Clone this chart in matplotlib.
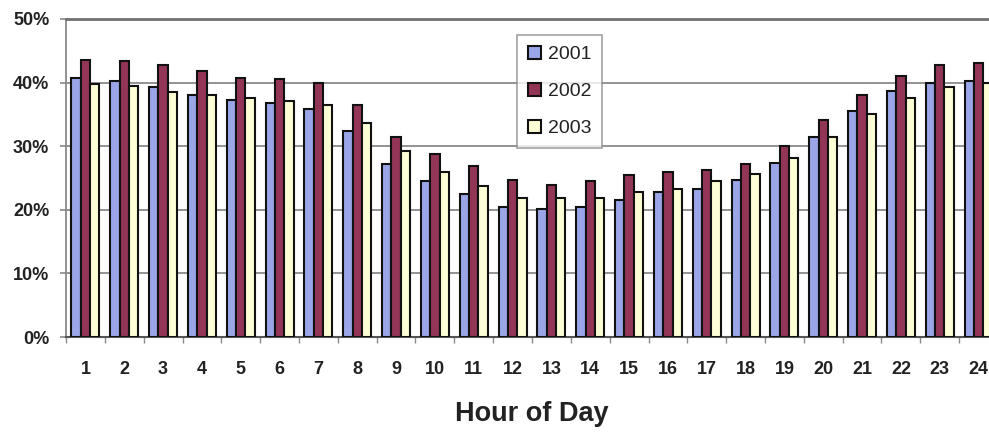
import matplotlib
matplotlib.use("Agg")
import matplotlib.pyplot as plt
import numpy as np

plt.rcParams["font.family"] = ["Liberation Sans", "DejaVu Sans"]

hours = list(range(1, 25))
share_2001 = [40.7, 40.2, 39.3, 38.0, 37.2, 36.8, 35.9, 32.4, 27.2, 24.5, 22.5, 20.5,
              20.2, 20.5, 21.5, 22.8, 23.3, 24.7, 27.4, 31.5, 35.5, 38.7, 40.0, 40.2]
share_2002 = [43.6, 43.4, 42.8, 41.9, 40.8, 40.6, 40.0, 36.5, 31.5, 28.8, 26.9, 24.7,
              23.9, 24.5, 25.4, 26.0, 26.2, 27.2, 30.0, 34.1, 38.0, 41.1, 42.7, 43.1]
share_2003 = [39.8, 39.5, 38.6, 38.0, 37.5, 37.1, 36.4, 33.6, 29.3, 25.9, 23.7, 21.8,
              21.8, 21.8, 22.8, 23.3, 24.5, 25.7, 28.1, 31.5, 35.0, 37.5, 39.3, 40.0]
years = ["2001", "2002", "2003"]

colors = ["#9AA6E8", "#933556", "#FFFFD6"]

fig = plt.figure(figsize=(9.89, 4.32), dpi=100)
# the plot area runs a little past the right edge of the picture, like the source
ax = fig.add_axes([66 / 989, 1 - 337 / 432, 932 / 989, 318 / 432])

x = np.array(hours)
w = 0.24
for i, (vals, lab) in enumerate(zip([share_2001, share_2002, share_2003], years)):
    ax.bar(x + (i - 1) * w, vals, width=w, color=colors[i], edgecolor="#111111",
           linewidth=1.5, label=lab, zorder=3)

ax.set_xlim(0.5, 24.5)
ax.set_ylim(0, 50)
ax.set_yticks([0, 10, 20, 30, 40, 50])
ax.set_yticklabels([f"{v}%" for v in range(0, 60, 10)])
ax.set_xticks(hours)
ax.set_xticklabels([str(h) for h in hours])
ax.set_xticks(np.arange(0.5, 25, 1), minor=True)

ax.grid(axis="y", color="#8a8a8a", linewidth=1.3, zorder=0)
ax.spines["right"].set_visible(False)
ax.spines["top"].set_color("#707070")
ax.spines["top"].set_linewidth(2.0)
ax.spines["left"].set_color("#8a8a8a")
ax.spines["left"].set_linewidth(1.3)
ax.spines["bottom"].set_color("#555555")
ax.spines["bottom"].set_linewidth(1.5)

ax.tick_params(axis="y", length=4, width=1.2, color="#8a8a8a", pad=8,
               labelsize=13)
ax.tick_params(axis="x", which="major", length=0, pad=17, labelsize=13)
ax.tick_params(axis="x", which="minor", length=4, width=1.0, color="#8a8a8a")
for t in ax.get_xticklabels() + ax.get_yticklabels():
    t.set_fontweight("bold")
    t.set_color("#222222")

ax.set_xlabel("Hour of Day", fontsize=19.5, fontweight="bold", color="#222222",
              labelpad=17)

leg = ax.legend(loc="upper left", bbox_to_anchor=(0.484, 0.95), fontsize=14,
                frameon=True, fancybox=False, edgecolor="#8a8a8a",
                handlelength=0.7, handleheight=0.7, handletextpad=0.35,
                labelspacing=1.0, borderpad=0.55, borderaxespad=0)
leg.get_frame().set_linewidth(1.2)
for t in leg.get_texts():
    t.set_color("#222222")

fig.savefig("out.png", dpi=100)
